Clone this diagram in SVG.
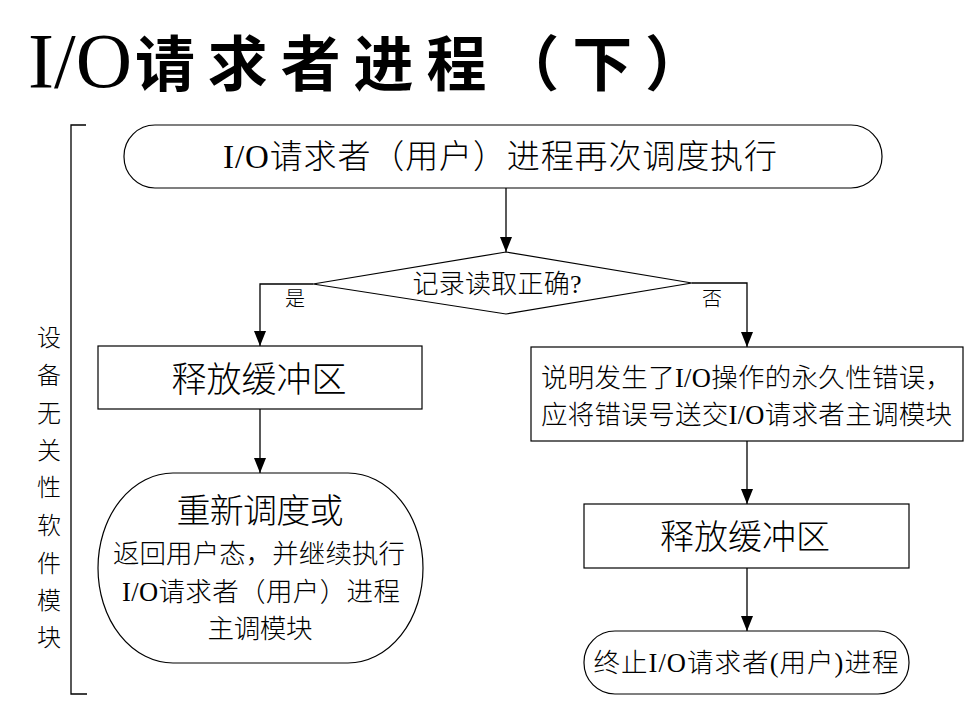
<svg xmlns="http://www.w3.org/2000/svg" width="971" height="714" viewBox="0 0 971 714">
<style>
.shape{fill:#fff;stroke:#000;stroke-width:1.2}
.ln{fill:none;stroke:#000;stroke-width:1.3}
.t{font-family:"Liberation Serif","Noto Sans CJK SC",serif;fill:#000;font-weight:300}
.c{text-anchor:middle}
</style>
<defs>
<marker id="ah" markerUnits="userSpaceOnUse" markerWidth="15" markerHeight="12" refX="15" refY="6" orient="auto">
<path d="M0,0 L15,6 L0,12 z" fill="#000"/>
</marker>
</defs>
<rect width="971" height="714" fill="#fff"/>
<g id="title">
<text x="28" y="87" font-family="Liberation Serif,serif" font-size="78" fill="#000">I/O</text>
<text x="135" y="86" font-family="Noto Sans CJK SC,sans-serif" font-weight="700" font-size="60" textLength="570" lengthAdjust="spacing" fill="#000">请求者进程（下）</text>
</g>
<g id="side">
<path class="ln" d="M86,125 H71 V694 H87"/>
<g class="t c" font-size="24">
<text x="49" y="346">设</text>
<text x="49" y="384">备</text>
<text x="49" y="422">无</text>
<text x="49" y="459">关</text>
<text x="49" y="496">性</text>
<text x="49" y="534">软</text>
<text x="49" y="572">件</text>
<text x="49" y="609">模</text>
<text x="49" y="646">块</text>
</g>
</g>
<g id="connectors">
<path class="ln" d="M506,188 V252" marker-end="url(#ah)"/>
<path class="ln" d="M313,284 H260 V346" marker-end="url(#ah)"/>
<path class="ln" d="M692,283 H747 V347" marker-end="url(#ah)"/>
<path class="ln" d="M260,409 V473" marker-end="url(#ah)"/>
<path class="ln" d="M747,441 V504" marker-end="url(#ah)"/>
<path class="ln" d="M747,568 V631" marker-end="url(#ah)"/>
<text class="t c" x="295" y="306" font-size="20">是</text>
<text class="t c" x="712" y="306" font-size="20">否</text>
</g>
<g id="start">
<rect class="shape" x="124" y="125" width="758" height="63" rx="31" ry="31"/>
<text class="t c" x="500" y="168" font-size="33" textLength="554" lengthAdjust="spacing">I/O请求者（用户）进程再次调度执行</text>
</g>
<g id="decision">
<polygon class="shape" points="506,252 692,283 506,314 313,284"/>
<text class="t c" x="497" y="293" font-size="26" textLength="169" lengthAdjust="spacing">记录读取正确?</text>
</g>
<g id="release1">
<rect class="shape" x="98" y="346" width="324" height="63"/>
<text class="t c" x="259" y="392" font-size="35" textLength="175" lengthAdjust="spacing">释放缓冲区</text>
</g>
<g id="error">
<rect class="shape" x="531" y="347" width="432" height="94"/>
<text class="t" x="541" y="387" font-size="26.5" textLength="411" lengthAdjust="spacing">说明发生了I/O操作的永久性错误，</text>
<text class="t" x="541" y="424" font-size="26.5" textLength="411" lengthAdjust="spacing">应将错误号送交I/O请求者主调模块</text>
</g>
<g id="resched">
<rect class="shape" x="98" y="473" width="325" height="190" rx="75" ry="95"/>
<text class="t c" x="260" y="523" font-size="34" textLength="167" lengthAdjust="spacing">重新调度或</text>
<text class="t c" x="259" y="563" font-size="26.5" textLength="292" lengthAdjust="spacing">返回用户态，并继续执行</text>
<text class="t c" x="261" y="601" font-size="26.5" textLength="278" lengthAdjust="spacing">I/O请求者（用户）进程</text>
<text class="t c" x="260" y="638" font-size="26.5" textLength="105" lengthAdjust="spacing">主调模块</text>
</g>
<g id="release2">
<rect class="shape" x="584" y="504" width="325" height="64"/>
<text class="t c" x="745" y="549" font-size="34" textLength="170" lengthAdjust="spacing">释放缓冲区</text>
</g>
<g id="end">
<rect class="shape" x="584" y="631" width="325" height="63" rx="31" ry="31"/>
<text class="t c" x="746" y="672" font-size="26.5" textLength="305" lengthAdjust="spacing">终止I/O请求者(用户)进程</text>
</g>
</svg>
